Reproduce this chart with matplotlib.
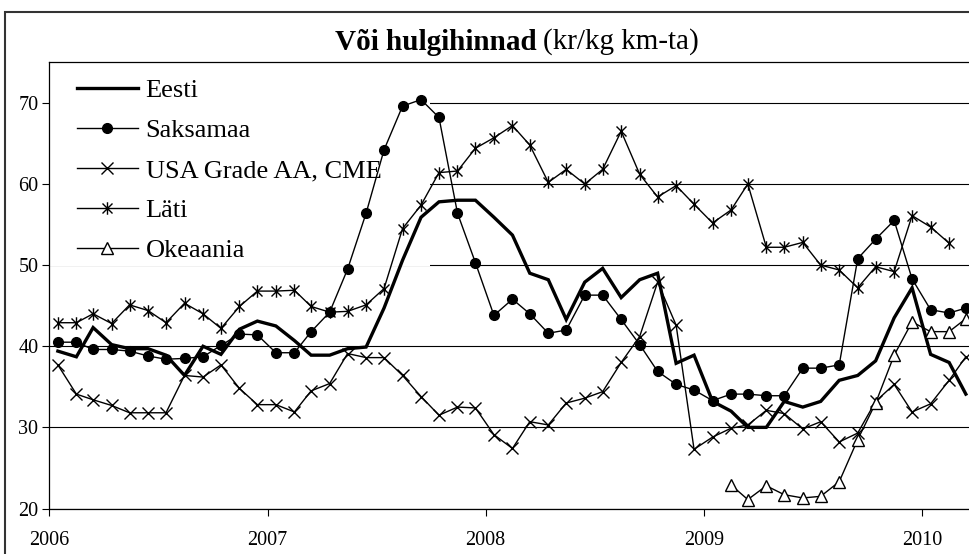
import matplotlib
matplotlib.use("Agg")
import matplotlib.pyplot as plt
import matplotlib.dates as mdates
import numpy as np
import pandas as pd
from matplotlib.path import Path
from matplotlib.patches import Rectangle
from matplotlib.lines import Line2D

# monthly wholesale butter prices, Jan 2006 .. Mar 2010 (kr/kg)
start = "2006-01-01"
n_months = 51

eesti = [39.4, 38.7, 42.3, 40.2, 39.7, 39.7, 38.9, 36.4, 40.0, 39.0, 42.1, 43.1,
         42.5, 40.7, 38.9, 38.9, 39.7, 39.9, 44.7, 50.6, 55.9, 57.8, 58.0, 58.0,
         55.9, 53.7, 49.0, 48.2, 43.3, 47.9, 49.6, 46.0, 48.2, 49.0, 37.9, 38.9,
         33.2, 32.0, 30.0, 30.0, 33.2, 32.5, 33.2, 35.8, 36.4, 38.2, 43.5, 47.2,
         39.0, 38.0, 34.1]

saksamaa = [40.5, 40.5, 39.6, 39.6, 39.4, 38.8, 38.4, 38.5, 38.7, 40.1, 41.5, 41.4,
            39.2, 39.2, 41.8, 44.2, 49.5, 56.4, 64.2, 69.6, 70.4, 68.2, 56.4, 50.3,
            43.8, 45.8, 44.0, 41.6, 42.0, 46.3, 46.3, 43.3, 40.2, 36.9, 35.3, 34.6,
            33.3, 34.1, 34.1, 33.9, 33.9, 37.3, 37.3, 37.7, 50.8, 53.2, 55.5, 48.3,
            44.5, 44.1, 44.7]

usa = [37.7, 34.1, 33.4, 32.7, 31.8, 31.8, 31.8, 36.4, 36.2, 37.7, 34.8, 32.8,
       32.8, 31.9, 34.5, 35.4, 39.1, 38.6, 38.6, 36.4, 33.8, 31.5, 32.5, 32.4,
       29.1, 27.4, 30.7, 30.3, 33.0, 33.6, 34.4, 38.0, 41.2, 47.9, 42.6, 27.3,
       28.8, 29.9, 30.3, 32.1, 31.7, 29.8, 30.7, 28.2, 29.3, 33.2, 35.3, 31.9,
       32.9, 35.8, 38.7]

lati = [42.9, 42.9, 44.0, 42.8, 45.1, 44.4, 42.9, 45.3, 44.0, 42.2, 44.9, 46.8,
        46.8, 46.9, 44.9, 44.2, 44.3, 45.1, 47.1, 54.5, 57.4, 61.4, 61.6, 64.4,
        65.7, 67.2, 64.8, 60.2, 61.8, 60.0, 61.8, 66.5, 61.2, 58.4, 59.8, 57.5,
        55.2, 56.8, 60.0, 52.2, 52.2, 52.8, 50.0, 49.4, 47.2, 49.8, 49.2, 56.1,
        54.7, 52.7]

# Okeaania starts in Feb 2009
okeaania_start = 37
okeaania = [22.9, 21.1, 22.8, 21.7, 21.3, 21.5, 23.3, 28.5, 33.0, 38.9, 43.0,
            41.8, 41.8, 43.4]

labels = ["Eesti", "Saksamaa", "USA Grade AA, CME", "Läti", "Okeaania"]
years = [2006, 2007, 2008, 2009, 2010]

W, H = 970, 554
plt.rcParams["font.family"] = ["Liberation Serif", "DejaVu Serif"]

dates = pd.date_range(start, periods=n_months, freq="MS") + pd.Timedelta(days=14)

# Excel-style star: x with a vertical bar
star = Path([(-1, -1), (1, 1), (-1, 1), (1, -1), (0, -1.25), (0, 1.25)],
            [Path.MOVETO, Path.LINETO, Path.MOVETO, Path.LINETO, Path.MOVETO, Path.LINETO])

fig = plt.figure(figsize=(W / 100, H / 100), dpi=100)
ax = fig.add_axes([49.5 / W, 1 - 508.5 / H, (976 - 49.5) / W, (508.5 - 62.3) / H])

lw = 1.0
ax.plot(dates, eesti, color="black", lw=2.4, zorder=3, solid_joinstyle="miter")
ax.plot(dates, saksamaa, color="black", lw=lw, marker="o", ms=7, zorder=3)
ax.plot(dates, usa, color="black", lw=lw, marker="x", ms=9, mew=1.0, zorder=3)
ax.plot(dates[:len(lati)], lati, color="black", lw=lw, marker=star, ms=9, mew=1.0,
        mfc="none", zorder=3)
ax.plot(dates[okeaania_start:okeaania_start + len(okeaania)], okeaania, color="black",
        lw=lw, marker="^", ms=8, mfc="white", mew=1.0, zorder=3)

ax.set_ylim(20, 75)
ax.set_xlim(pd.Timestamp("2006-01-01"), pd.Timestamp("2010-04-01"))
ax.set_yticks([20, 30, 40, 50, 60, 70])
ax.set_xticks([pd.Timestamp(f"{y}-01-01") for y in years])
ax.xaxis.set_major_formatter(mdates.DateFormatter("%Y"))
ax.grid(axis="y", color="black", lw=0.8)
ax.set_axisbelow(True)
ax.tick_params(axis="both", direction="out", length=5, width=0.8, labelsize=14.5, colors="black")
ax.tick_params(axis="x", pad=11)
ax.tick_params(axis="y", pad=3)
for s in ax.spines.values():
    s.set_linewidth(0.9)
    s.set_color("black")

# white box behind the legend, under the series
ax.add_patch(Rectangle((0, (508.5 - 266) / (508.5 - 62.3)), (430 - 49.5) / (976 - 49.5),
                       1, transform=ax.transAxes, facecolor="white", edgecolor="none",
                       zorder=1.5, clip_on=True))

handles = [
    Line2D([], [], color="black", lw=2.4),
    Line2D([], [], color="black", lw=lw, marker="o", ms=7),
    Line2D([], [], color="black", lw=lw, marker="x", ms=9),
    Line2D([], [], color="black", lw=lw, marker=star, ms=9, mfc="none"),
    Line2D([], [], color="black", lw=lw, marker="^", ms=8, mfc="white"),
]
leg = ax.legend(handles, labels, loc="upper left", bbox_to_anchor=(77 / W, 1 - 79 / H),
                bbox_transform=fig.transFigure, frameon=False, fontsize=19,
                handlelength=2.3, handletextpad=0.3, labelspacing=0.62,
                borderpad=0, borderaxespad=0)
leg.set_zorder(4)

fig.text(537 / W, 1 - 42 / H, "Või hulgihinnad", fontsize=21, fontweight="bold",
         ha="right", va="center")
fig.text(543 / W, 1 - 42 / H, "(kr/kg km-ta)", fontsize=21, ha="left", va="center")

# outer chart border
fig.add_artist(Rectangle((5 / W, -0.2), 1.2, 1.2 - 12 / H, transform=fig.transFigure,
                         facecolor="none", edgecolor="#333333", lw=1.5))

fig.savefig("out.png", dpi=100)
